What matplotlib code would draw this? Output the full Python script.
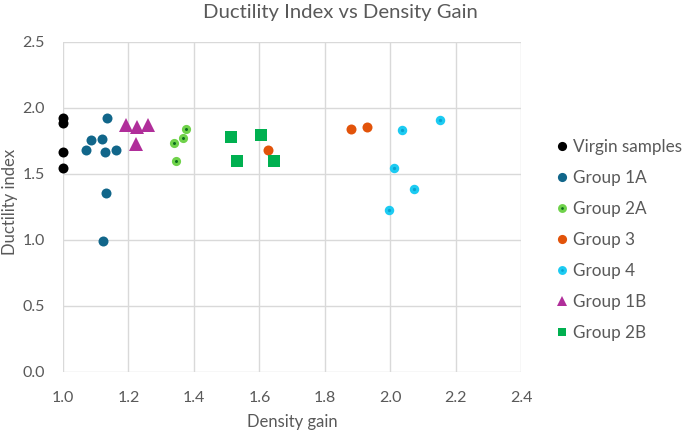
import matplotlib.pyplot as plt
from matplotlib.lines import Line2D

plt.rcParams['font.family'] = ['Lato', 'DejaVu Sans']

# Data
virgin_x = [1.0, 1.0, 1.0, 1.0]
virgin_y = [1.925, 1.885, 1.665, 1.545]

g1a_x = [1.135, 1.087, 1.120, 1.070, 1.129, 1.161, 1.132, 1.121]
g1a_y = [1.92, 1.76, 1.765, 1.68, 1.665, 1.68, 1.355, 0.995]

g2a_x = [1.375, 1.368, 1.338, 1.346]
g2a_y = [1.838, 1.773, 1.732, 1.60]

g3_x = [1.879, 1.930, 1.625]
g3_y = [1.841, 1.853, 1.684]

g4_x = [2.037, 2.152, 2.011, 2.072, 1.997]
g4_y = [1.836, 1.906, 1.543, 1.389, 1.227]

g1b_x = [1.191, 1.227, 1.259, 1.223]
g1b_y = [1.87, 1.856, 1.87, 1.73]

g2b_x = [1.513, 1.606, 1.530, 1.646]
g2b_y = [1.777, 1.792, 1.596, 1.60]

labels = ['Virgin samples', 'Group 1A', 'Group 2A', 'Group 3', 'Group 4', 'Group 1B', 'Group 2B']

grey = '#595959'
c_virgin = '#000000'
c_1a = '#11668A'
c_2a_out, c_2a_in = '#6FD24A', '#0B6B1E'
c_3 = '#E2530A'
c_4_out, c_4_in = '#1CCBF2', '#0AA3D0'
c_1b = '#B02E9A'
c_2b = '#00B050'

fig = plt.figure(figsize=(6.85, 4.32), dpi=100)
ax = fig.add_axes([0.092, 0.139, 0.669, 0.764])

ms = 7.2
ax.plot(virgin_x, virgin_y, 'o', ms=ms, color=c_virgin, mew=0, clip_on=False, zorder=3)
ax.plot(g1a_x, g1a_y, 'o', ms=ms, color=c_1a, mew=0, clip_on=False, zorder=3)
ax.plot(g2a_x, g2a_y, 'o', ms=4.4, mfc=c_2a_in, mec=c_2a_out, mew=2.2, clip_on=False, zorder=3)
ax.plot(g3_x, g3_y, 'o', ms=ms, color=c_3, mew=0, clip_on=False, zorder=3)
ax.plot(g4_x, g4_y, 'o', ms=4.6, mfc=c_4_in, mec=c_4_out, mew=2.2, clip_on=False, zorder=3)
ax.plot(g1b_x, g1b_y, '^', ms=9.5, color=c_1b, mew=0, clip_on=False, zorder=3)
ax.plot(g2b_x, g2b_y, 's', ms=9.0, color=c_2b, mew=0, clip_on=False, zorder=3)

ax.set_xlim(1.0, 2.4)
ax.set_ylim(0.0, 2.5)
ax.set_xticks([1.0, 1.2, 1.4, 1.6, 1.8, 2.0, 2.2, 2.4])
ax.set_yticks([0.0, 0.5, 1.0, 1.5, 2.0, 2.5])
ax.xaxis.set_major_formatter(plt.FuncFormatter(lambda v, p: f'{v:.1f}'))
ax.yaxis.set_major_formatter(plt.FuncFormatter(lambda v, p: f'{v:.1f}'))
ax.grid(True, color='#D9D9D9', lw=1.0)
ax.set_axisbelow(True)
for s in ax.spines.values():
    s.set_visible(False)
ax.tick_params(axis='x', length=0, labelsize=11.5, colors=grey, pad=14)
ax.tick_params(axis='y', length=0, labelsize=11.5, colors=grey, pad=13)

ax.set_xlabel('Density gain', fontsize=12, color=grey, labelpad=6)
fig.text(0.0146, 0.532, 'Ductility index', rotation=90, ha='center', va='center',
         fontsize=12, color=grey)
fig.text(0.497, 0.972, 'Ductility Index vs Density Gain', ha='center', va='center',
         fontsize=14.6, color=grey)

# legend
handles = [
    Line2D([], [], ls='none', marker='o', ms=6.6, color=c_virgin, mew=0),
    Line2D([], [], ls='none', marker='o', ms=6.6, color=c_1a, mew=0),
    Line2D([], [], ls='none', marker='o', ms=4.2, mfc=c_2a_in, mec=c_2a_out, mew=2.2),
    Line2D([], [], ls='none', marker='o', ms=6.6, color=c_3, mew=0),
    Line2D([], [], ls='none', marker='o', ms=4.2, mfc=c_4_in, mec=c_4_out, mew=2.2),
    Line2D([], [], ls='none', marker='^', ms=7.5, color=c_1b, mew=0),
    Line2D([], [], ls='none', marker='s', ms=6.4, color=c_2b, mew=0),
]
leg = fig.legend(handles, labels, loc='upper left', bbox_to_anchor=(0.813, 0.679),
                 frameon=False, fontsize=12.3, labelspacing=0.88, handlelength=0.6,
                 handletextpad=0.35, borderaxespad=0, borderpad=0)
for t in leg.get_texts():
    t.set_color(grey)

fig.savefig('out.png', dpi=100)
